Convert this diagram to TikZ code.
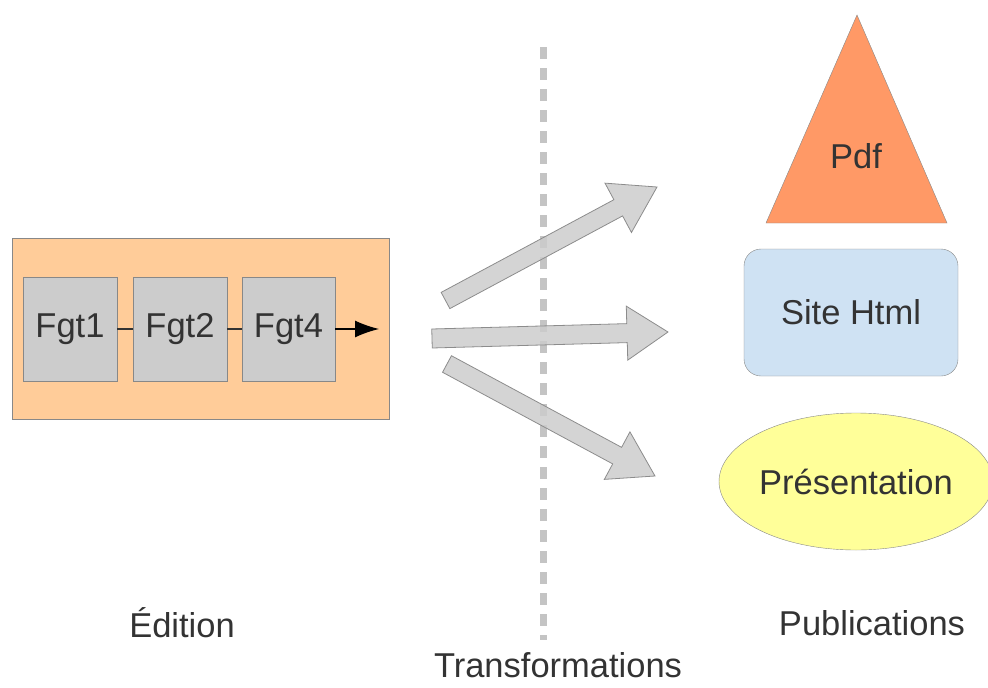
\documentclass[tikz,border=0pt]{standalone}
\usepackage{fontspec}
\setmainfont{Liberation Sans}
\usetikzlibrary{calc,arrows.meta,shapes.geometric}
\definecolor{txt}{HTML}{333333}
\definecolor{edge}{HTML}{888888}
\definecolor{orangebg}{HTML}{FFCC99}
\definecolor{boxgray}{HTML}{CCCCCC}
\definecolor{pdfcol}{HTML}{FF9966}
\definecolor{htmlcol}{HTML}{CFE2F3}
\definecolor{prescol}{HTML}{FFFF99}
\definecolor{arrowfill}{HTML}{CCCCCC}
\definecolor{arrowline}{HTML}{8C8C8C}
\definecolor{dashcol}{HTML}{C4C4C4}
\newcommand\fatarrow[5]{%
  \filldraw[bigarrow]
    ($(#1)!#3!90:(#2)$) --
    ($($(#2)!#4!(#1)$)!#3!-90:(#1)$) --
    ($($(#2)!#4!(#1)$)!#5!-90:(#1)$) --
    (#2) --
    ($($(#2)!#4!(#1)$)!#5!90:(#1)$) --
    ($($(#2)!#4!(#1)$)!#3!90:(#1)$) --
    ($(#1)!#3!-90:(#2)$) -- cycle;}
\tikzset{
  lbl/.style={text=txt,font=\fontsize{34.5}{41}\selectfont},
  fgt/.style={lbl,draw=edge,fill=boxgray,minimum height=104pt,inner sep=0pt},
  bigarrow/.style={draw=arrowline,fill=arrowfill,fill opacity=0.85,line width=0.8pt,line join=miter},
  conn/.style={draw=txt,line width=1.2pt},
}
\begin{document}
\begin{tikzpicture}[x=1pt,y=-1pt]
\useasboundingbox (0,0) rectangle (988,688);
% Edition block
\node[draw=edge,fill=orangebg,minimum width=377pt,minimum height=181pt,inner sep=0pt] (edit) at (200.5,328.5) {};
\node[fgt,minimum width=94pt] (f1) at (70,329) {Fgt1};
\node[fgt,minimum width=94pt] (f2) at (180,329) {Fgt2};
\node[fgt,minimum width=93pt] (f4) at (288.5,329) {Fgt4};
\coordinate (fend) at (379,329);
\draw[conn] (f1) -- (f2);
\draw[conn] (f2) -- (f4);
\draw[conn,draw=black,-{Latex[length=24pt,width=17pt]}] (f4.east) -- (fend);
% dashed separator
\coordinate (dtop) at (543,47);
\coordinate (dbot) at (543,640);
\draw[dashcol,line width=7pt,dash pattern=on 12pt off 9pt] (dtop) -- (dbot);
% big arrows
\coordinate (t1) at (445.5,300.5); \coordinate (p1) at (657,187);
\coordinate (t2) at (432,338.5);   \coordinate (p2) at (668,332);
\coordinate (t3) at (447,364);     \coordinate (p3) at (655,476);
\fatarrow{t1}{p1}{9.2pt}{44pt}{28pt}
\fatarrow{t2}{p2}{9.5pt}{41pt}{27pt}
\fatarrow{t3}{p3}{9.4pt}{43pt}{27pt}
% Publications
\coordinate (tria) at (857,15);
\coordinate (trib) at (766,223);
\coordinate (tric) at (947,223);
\filldraw[draw=edge,fill=pdfcol] (tria) -- (trib) -- (tric) -- cycle;
\node[lbl] (pdf) at (856,156) {Pdf};
\node[lbl,draw=edge,fill=htmlcol,rounded corners=17pt,minimum width=214pt,minimum height=127pt] (html) at (851,312.5) {Site Html};
\node[lbl,ellipse,draw=edge,fill=prescol,minimum width=268pt,minimum height=137pt,inner sep=0pt] (pres) at (856,481.5) {Présentation};
% section labels
\node[lbl] (edlbl) at (182,623) {Édition};
\node[lbl] (publbl) at (872,623) {Publications};
\node[lbl] (trlbl) at (558,665) {Transformations};
\end{tikzpicture}
\end{document}
